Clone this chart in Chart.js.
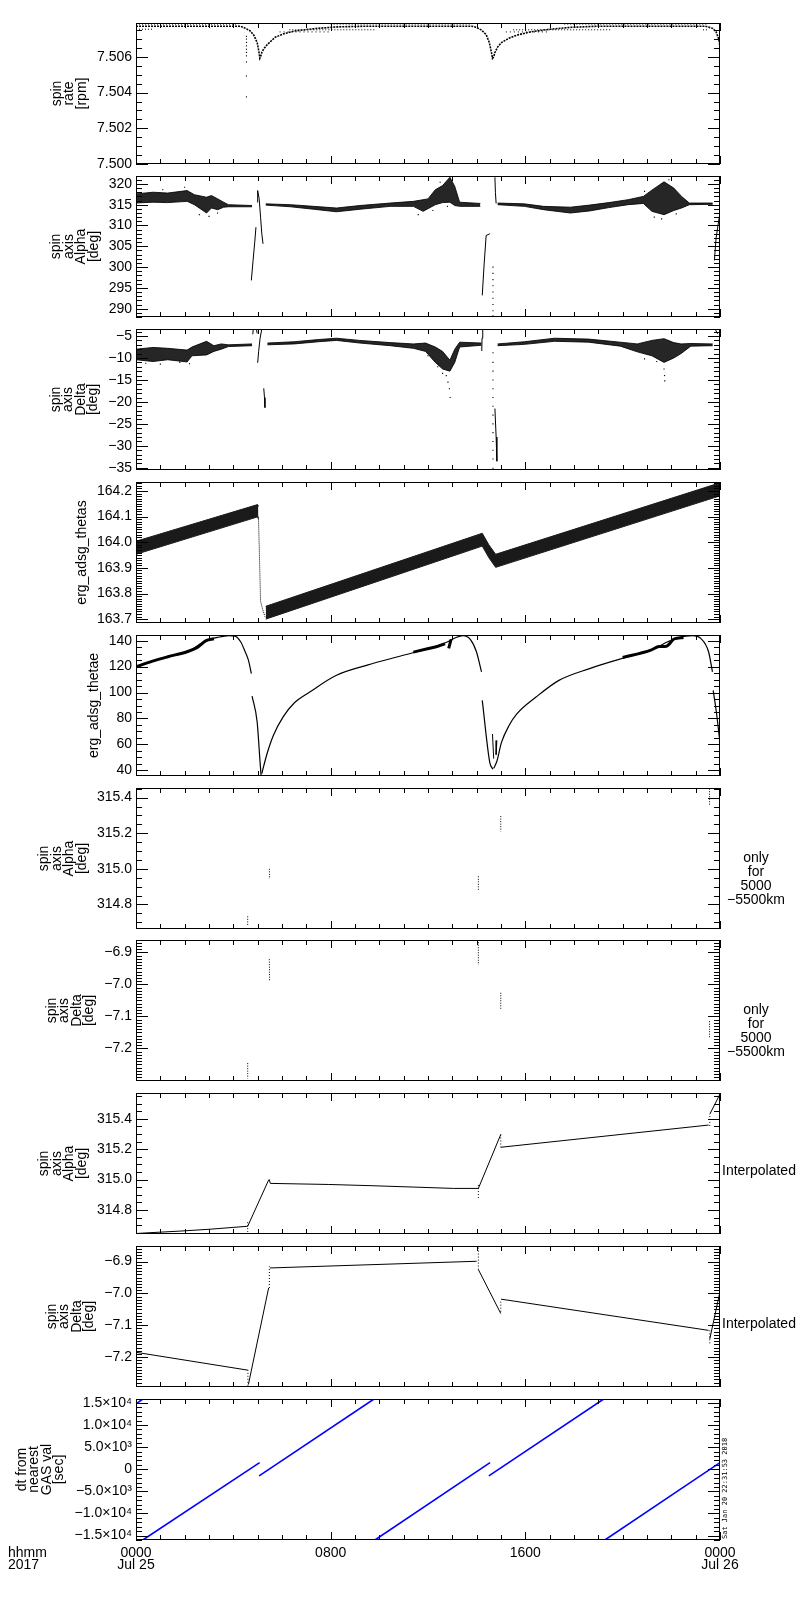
<!DOCTYPE html>
<html>
<head>
<meta charset="utf-8">
<script src="https://cdn.jsdelivr.net/npm/chart.js@4.4.1/dist/chart.umd.min.js"></script>
<style>
  html, body { margin: 0; padding: 0; background: #fff; }
  #page { position: relative; width: 800px; height: 1600px; overflow: hidden; }
  #page canvas { position: absolute; left: 0; }
</style>
</head>
<body>
<div id="page"></div>
<script>
const FONT = '"Liberation Sans", Arial, sans-serif';

// x axis: hours from 0000 Jul 25 2017
const hourTicks = [0, 8, 16, 24];
const hourLabels = [['0000', 'Jul 25'], '0800', '1600', ['0000', 'Jul 26']];

// ---- panel 1: spin rate [rpm] ----
const rateTicks = [7.500, 7.502, 7.504, 7.506];
const rateLabels = ['7.500', '7.502', '7.504', '7.506'];
const rateMain = [[0,7.50772],[4.3,7.50772],[4.5,7.5076],[4.7,7.50745],[4.85,7.5072],[4.98,7.5068],[5.05,7.5063],[5.09,7.50592],[5.12,7.506],[5.17,7.50625],[5.25,7.50645],[5.4,7.5067],[5.56,7.5069],[5.72,7.5071],[6.04,7.50728],[6.5,7.50745],[7.3,7.50758],[8.2,7.50768],[9.5,7.50772],[13.8,7.50772],[14.0,7.50765],[14.2,7.5075],[14.39,7.50725],[14.52,7.5068],[14.6,7.5063],[14.65,7.50592],[14.7,7.506],[14.75,7.50625],[14.86,7.50655],[15.02,7.5068],[15.33,7.50705],[15.65,7.50722],[16.2,7.5074],[17.0,7.50755],[17.9,7.50766],[19.0,7.50772],[23.4,7.50772],[23.7,7.5076],[23.84,7.5074],[23.95,7.507],[24,7.5066]];
const rateLevelHi = [[0,7.50784],[4.2,7.50784],null,[8.0,7.50784],[13.8,7.50784],null,[17.6,7.50784],[23.5,7.50784]];
const rateLevelLo = [[0,7.50755],[0.7,7.50755],null,[6.3,7.50752],[9.8,7.50752],null,[15.5,7.50752],[19.5,7.50752],null,[23.3,7.50752],[23.5,7.50752]];
const rateLevel3 = [[5.9,7.5074],[8.0,7.5074],null,[15.2,7.5074],[17.0,7.5074]];
const rateSpike = [[4.54,7.50715],[4.54,7.507],[4.54,7.50681],[4.54,7.50662],[4.54,7.50643],[4.54,7.50625],[4.54,7.50606],[4.54,7.50572],[4.54,7.50493],[4.54,7.50376]];

// ---- panel 2: spin axis Alpha [deg] ----
const alphaTicks = [290, 295, 300, 305, 310, 315, 320];
const alphaLabels = ['290', '295', '300', '305', '310', '315', '320'];
const alphaHi = [[0,317.6],[0.7,318.0],[1.3,317.8],[2.1,318.4],[2.4,317.4],[2.9,316.8],[3.1,317.2],[3.36,316.4],[3.6,315.6],[3.8,315.0],[4.77,314.8],null,[5.33,315.2],[6.35,315.0],[7.3,314.6],[8.24,314.2],[9.2,314.8],[10.45,315.4],[11.4,315.8],[12.0,316.4],[12.3,318.6],[12.6,319.6],[12.9,321.6],[13.1,319.4],[13.3,315.6],[14.15,315.3],null,[14.86,315.4],[15.96,315.2],[16.75,314.6],[17.85,314.4],[18.64,314.9],[19.43,315.5],[20.22,316.2],[20.85,317.0],[21.2,318.5],[21.7,320.5],[22.1,319.0],[22.42,317.0],[22.74,315.4],[23.7,315.4]];
const alphaLo = [[0,315.4],[0.7,315.6],[1.3,315.5],[2.1,315.8],[2.4,315.0],[2.9,313.0],[3.1,314.2],[3.36,313.8],[3.6,314.4],[3.8,314.5],[4.77,314.5],null,[5.33,314.9],[6.35,314.5],[7.3,313.9],[8.24,313.3],[9.2,313.9],[10.45,314.6],[11.4,314.6],[11.8,313.4],[12.3,315.0],[12.6,315.5],[12.9,315.6],[13.1,314.8],[13.3,314.6],[14.15,314.6],null,[14.86,315.0],[15.96,314.6],[16.75,313.8],[17.85,313.0],[18.64,313.5],[19.43,314.3],[20.22,315.0],[20.85,315.3],[21.2,313.4],[21.7,312.6],[22.1,313.6],[22.42,314.2],[22.74,315.0],[23.7,315.1]];
const alphaSteep = [[4.74,296.8],[4.81,301.5],[4.88,306],[4.93,309.6],null,[4.98,315.6],[5.0,318.4],[5.06,316.5],[5.12,312],[5.17,308],[5.22,305.6],null,[14.23,293.2],[14.31,301],[14.39,307.6],[14.54,308.0],null,[14.75,321.6],[14.77,318],[14.8,315.3],null,[23.77,301.6],[23.84,307],[23.97,312],[24,313]];
const alphaDots = [[14.67,300],[14.67,298.5],[14.67,297],[14.67,295.5],[14.67,294],[14.67,292.5],[14.67,291],[14.67,289.5],[14.67,288.3]];
const alphaSparse = [[2.0,319.2],[2.6,312.6],[3.0,312.2],[3.35,313.0],[11.6,312.6],[12.2,313.6],[12.5,320.4],[12.8,314.6],[20.9,318.2],[21.3,312.0],[21.6,311.6],[21.9,321.0],[22.2,312.8],[0.3,314.8],[1.1,318.6]];

// ---- panel 3: spin axis Delta [deg] ----
const deltaTicks = [-35, -30, -25, -20, -15, -10, -5];
const deltaLabels = ['\u221235', '\u221230', '\u221225', '\u221220', '\u221215', '\u221210', '\u22125'];
const deltaHi = [[0,-8.0],[0.7,-7.6],[1.3,-7.8],[2.1,-8.2],[2.3,-7.5],[2.9,-6.2],[3.2,-7.2],[3.5,-6.8],[3.8,-7.0],[4.77,-6.8],null,[5.4,-6.6],[6.5,-6.3],[7.5,-5.8],[8.24,-5.5],[9.2,-6.0],[10.45,-6.5],[11.4,-6.8],[11.9,-6.6],[12.3,-7.5],[12.6,-8.5],[12.9,-10.5],[13.1,-8.0],[13.3,-6.4],[14.2,-6.6],null,[14.86,-6.8],[15.96,-6.3],[17.2,-5.5],[18.6,-5.7],[19.9,-6.4],[20.6,-6.8],[21.2,-6.0],[21.7,-5.6],[22.1,-6.5],[22.4,-6.8],[22.8,-6.7],[23.7,-6.8]];
const deltaLo = [[0,-10.4],[0.7,-10.8],[1.3,-10.4],[2.1,-10.9],[2.3,-9.5],[2.9,-9.3],[3.2,-8.5],[3.5,-8.0],[3.8,-7.4],[4.77,-7.2],null,[5.4,-7.0],[6.5,-6.8],[7.5,-6.3],[8.24,-6.0],[9.2,-6.6],[10.45,-7.2],[11.4,-7.8],[11.9,-8.5],[12.3,-11.0],[12.6,-12.5],[12.9,-13.0],[13.1,-11.0],[13.3,-7.5],[14.2,-7.1],null,[14.86,-7.2],[15.96,-6.9],[17.2,-6.2],[18.6,-6.4],[19.9,-7.3],[20.6,-8.6],[21.2,-9.5],[21.7,-11.0],[22.1,-10.0],[22.4,-9.0],[22.8,-7.3],[23.7,-7.2]];
const deltaSparse = [[12.75,-14],[12.82,-15.5],[12.88,-17],[12.91,-19],[12.6,-13.5],[21.7,-12.5],[21.72,-14],[21.73,-15.2],[20.9,-10.2],[12.0,-9.5],[2.2,-11.3],[1.8,-11.0],[0.4,-11.2],[1.0,-11.4],[12.4,-12.0],[21.4,-10.8]];
const deltaSteep = [[4.8,-4.6],[4.82,-3.4],[4.95,-3.4],[4.98,-4.4],null,[5.17,-3.4],[5.1,-5.5],[5.04,-8.5],[5.0,-11.1],null,[5.25,-16.9],[5.28,-19.0],[5.3,-21.3],null,[14.21,-8.4],[14.22,-5.5],[14.25,-3.4],[14.36,-3.4],null,[14.75,-21.5],[14.8,-28],[14.83,-33.5],null,[23.77,-3.6],[23.8,-3.4],[23.9,-4.5],null,[23.98,-7.5],[24,-9.5]];
const deltaDots = [[14.67,-8.8],[14.67,-11],[14.67,-13],[14.67,-15],[14.67,-17],[14.67,-19],[14.67,-21],[14.67,-23],[14.67,-25],[14.67,-27],[14.67,-29],[14.67,-31],[14.67,-33],[14.67,-35.1]];

// ---- panel 4: erg_adsg_thetas ----
const thetasTicks = [163.7, 163.8, 163.9, 164.0, 164.1, 164.2];
const thetasLabels = ['163.7', '163.8', '163.9', '164.0', '164.1', '164.2'];
const thetasHi = [[0,164.004],[5.0,164.147],[5.03,164.14],null,[5.33,163.75],[14.23,164.035],[14.5,163.99],[14.78,163.953],[24,164.232]];
const thetasLo = [[0,163.953],[5.0,164.099],[5.03,164.09],null,[5.33,163.70],[14.23,163.985],[14.5,163.94],[14.78,163.902],[24,164.181]];
const thetasDrop = [[5.03,164.1],[5.06,164.0],[5.09,163.88],[5.12,163.77],[5.2,163.74],[5.3,163.71]];

// ---- panel 5: erg_adsg_thetae ----
const thetaeTicks = [40, 60, 80, 100, 120, 140];
const thetaeLabels = ['40', '60', '80', '100', '120', '140'];
const thetaeMain = [[0,119.8],[0.68,124.2],[1.31,127.6],[2.10,131.5],[2.88,140.0],[3.36,142.6],[3.83,143.9],[4.07,143.6],[4.30,139.2],[4.46,132.7],[4.62,125.0],[4.74,114.6],null,[4.77,97.3],[4.98,77.1],[5.09,48.6],[5.14,35.8],null,[5.17,37.5],[5.25,43.4],[5.40,53.7],[5.64,66.7],[6.04,81.0],[6.51,92.1],[7.14,100.4],[8.24,113.3],[9.50,121.1],[10.76,127.6],[12.02,134.0],[12.81,139.2],[13.13,142.3],[13.44,143.9],[13.76,140.5],[13.99,131.5],[14.20,115.9],null,[14.23,93.9],[14.54,46.0],[14.67,40.8],null,[14.7,41.5],[14.83,47.0],[15.02,61.5],[15.33,74.5],[15.65,83.5],[16.44,96.5],[17.38,109.4],[18.64,118.5],[20.22,127.6],[21.16,132.7],[22.11,141.3],[22.90,143.9],[23.21,141.8],[23.53,131.5],[23.69,115.9],null,[23.72,101.7],[23.85,85],[24,61.5]];
const thetaeNoise = [[0,119.8],[0.68,124.2],[1.31,127.6],[2.10,131.5],[2.5,134.5],[2.88,140.0],[3.2,141.5],null,[11.4,131.2],[12.02,134.0],[12.4,135.6],[12.7,137.6],null,[12.85,134],[12.95,141],null,[20.0,127],[21.16,132.7],[21.5,135.5],[21.8,135.8],[22.11,141.3],[22.5,142.5]];
const thetaeSpikes = [[14.65,68],[14.7,49],null,[14.83,63],[14.8,52]];

// ---- panel 6/7: spin axis only for 5000-5500km ----
const nearAlphaTicks = [314.8, 315.0, 315.2, 315.4];
const nearAlphaLabels = ['314.8', '315.0', '315.2', '315.4'];
const nearAlpha = [[4.59,314.733],[4.59,314.681],null,[5.48,315.0],[5.49,314.943],null,[14.07,314.958],[14.07,314.878],null,[14.99,315.296],[14.99,315.21],null,[23.57,315.45],[23.57,315.356]];
const nearDeltaTicks = [-7.2, -7.1, -7.0, -6.9];
const nearDeltaLabels = ['\u22127.2', '\u22127.1', '\u22127.0', '\u22126.9'];
const nearDelta = [[4.59,-7.246],[4.59,-7.294],null,[5.48,-6.921],[5.49,-6.991],null,[14.07,-6.868],[14.07,-6.939],null,[14.99,-7.026],[14.99,-7.076],null,[23.57,-7.115],[23.57,-7.168]];

// ---- panel 8/9: interpolated spin axis ----
const interpAlpha = [[0,314.645],[0.5,314.65],[1.8,314.661],[3.0,314.673],[4.59,314.693],[5.45,314.997],[5.48,315.0],[5.52,314.975],[7.9,314.968],[9.66,314.96],[11.39,314.951],[13.05,314.942],[14.07,314.942],[14.99,315.297],null,[15.0,315.213],[23.53,315.359],null,[23.58,315.43],[24,315.563]];
const interpAlphaDots = [[4.59,314.72],[4.59,314.655],null,[14.07,314.964],[14.07,314.875],null,[14.99,315.297],[14.99,315.208],null,[23.58,315.419],[23.58,315.352]];
const interpDelta = [[0,-7.185],[4.59,-7.241],null,[4.62,-7.286],[5.45,-6.983],null,[5.5,-6.92],[14.0,-6.899],null,[14.07,-6.925],[14.99,-7.063],null,[15.0,-7.018],[23.53,-7.116],null,[23.58,-7.143],[24,-6.994]];
const interpDeltaDots = [[4.6,-7.24],[4.6,-7.29],null,[5.48,-6.983],[5.48,-6.915],null,[14.07,-6.856],[14.07,-6.925],null,[14.99,-7.026],[14.99,-7.063],null,[23.58,-7.116],[23.58,-7.158]];

// ---- panel 10: dt from nearest GAS val [sec] ----
const dtTicks = [-15000, -10000, -5000, 0, 5000, 10000, 15000];
const dtLabels = ['\u22121.5\u00d710\u2074', '\u22121.0\u00d710\u2074', '\u22125.0\u00d710\u00b3', '0', '5.0\u00d710\u00b3', '1.0\u00d710\u2074', '1.5\u00d710\u2074'];
const dtLine = [[0,14800],[0.28,15900],null,[0.28,-16000],[5.08,1500],null,[5.06,-1500],[9.78,15900],null,[9.82,-16000],[14.55,1500],null,[14.5,-1500],[19.22,15900],null,[19.27,-16000],[24,1500]];

// ---------- helpers ----------
function split(arr) {
  const out = [[]];
  arr.forEach(p => p ? out[out.length - 1].push({ x: p[0], y: p[1] }) : out.push([]));
  return out.filter(s => s.length);
}
function lineSets(arr, style) {
  return split(arr).map(seg => Object.assign({
    data: seg, borderColor: '#000', borderWidth: 1, pointRadius: 0, fill: false, tension: 0
  }, style || {}));
}
function bandSets(hi, lo, color) {
  const H = split(hi), L = split(lo), out = [];
  H.forEach((seg, k) => {
    out.push({ data: seg, borderColor: color, borderWidth: 1, pointRadius: 0, fill: false });
    out.push({ data: L[k], borderColor: color, borderWidth: 1, pointRadius: 0, fill: '-1', backgroundColor: color });
  });
  return out;
}
function dotSets(arr) {
  return [{ data: split(arr).flat(), showLine: false, pointRadius: 0.8, pointStyle: 'rect',
            backgroundColor: '#000', borderWidth: 0 }];
}

const alphaTitle = ['spin', 'axis', 'Alpha', '[deg]'];
const deltaTitle = ['spin', 'axis', 'Delta', '[deg]'];
const onlyNote = ['only', 'for', '5000', '\u22125500km'];
const smooth = { cubicInterpolationMode: 'monotone' };

const panels = [
  { title: ['spin', 'rate', '[rpm]'], min: 7.500, max: 7.5079, ticks: rateTicks, labels: rateLabels, minor: 0.0005,
    sets: [...lineSets(rateLevelHi, { borderDash: [1, 2] }), ...lineSets(rateLevelLo, { borderDash: [1, 2] }),
           ...lineSets(rateLevel3, { borderDash: [1, 3] }), ...lineSets(rateMain, { borderWidth: 1.6, borderDash: [2, 1] }),
           ...dotSets(rateSpike)] },
  { title: alphaTitle, min: 288.0, max: 321.9, ticks: alphaTicks, labels: alphaLabels, minor: 1,
    sets: [...bandSets(alphaHi, alphaLo, 'rgba(0,0,0,0.85)'), ...lineSets(alphaSteep), ...dotSets(alphaDots), ...dotSets(alphaSparse)] },
  { title: deltaTitle, min: -35.5, max: -3.4, ticks: deltaTicks, labels: deltaLabels, minor: 1,
    sets: [...bandSets(deltaHi, deltaLo, 'rgba(0,0,0,0.85)'), ...lineSets(deltaSteep), ...dotSets(deltaDots), ...dotSets(deltaSparse)] },
  { title: ['erg_adsg_thetas'], min: 163.685, max: 164.235, ticks: thetasTicks, labels: thetasLabels, minor: 0.01,
    sets: [...bandSets(thetasHi, thetasLo, '#1a1a1a'), ...lineSets(thetasDrop, { borderDash: [1, 1] })] },
  { title: ['erg_adsg_thetae'], min: 35.6, max: 144.4, ticks: thetaeTicks, labels: thetaeLabels, minor: 5,
    sets: [...lineSets(thetaeNoise, Object.assign({ borderWidth: 3 }, smooth)),
           ...lineSets(thetaeMain, Object.assign({ borderWidth: 1.2 }, smooth)), ...lineSets(thetaeSpikes)] },
  { title: alphaTitle, note: onlyNote, min: 314.662, max: 315.454, ticks: nearAlphaTicks, labels: nearAlphaLabels, minor: 0.05,
    sets: lineSets(nearAlpha, { borderDash: [1, 1.5] }) },
  { title: deltaTitle, note: onlyNote, min: -7.302, max: -6.861, ticks: nearDeltaTicks, labels: nearDeltaLabels, minor: 0.01,
    sets: lineSets(nearDelta, { borderDash: [1, 1.5] }) },
  { title: alphaTitle, note: 'Interpolated', min: 314.642, max: 315.57, ticks: nearAlphaTicks, labels: nearAlphaLabels, minor: 0.05,
    sets: [...lineSets(interpAlpha), ...lineSets(interpAlphaDots, { borderDash: [1, 2] })] },
  { title: deltaTitle, note: 'Interpolated', min: -7.294, max: -6.851, ticks: nearDeltaTicks, labels: nearDeltaLabels, minor: 0.01,
    sets: [...lineSets(interpDelta), ...lineSets(interpDeltaDots, { borderDash: [1, 2] })] },
  { title: ['dt from', 'nearest', 'GAS val', '[sec]'], min: -16000, max: 15900, ticks: dtTicks, labels: dtLabels, minor: 1000,
    sets: lineSets(dtLine, { borderColor: '#0000ff', borderWidth: 1.6 }) }
];

// IDL-style frame: box, inward ticks on all sides, rotated titles, side notes
const idlFrame = {
  id: 'idlFrame',
  afterDraw(chart, args, opts) {
    const p = opts.panel;
    const { ctx, chartArea: a } = chart;
    const xs = chart.scales.x, ys = chart.scales.y;
    ctx.save();
    ctx.strokeStyle = '#000';
    ctx.lineWidth = 1;
    ctx.strokeRect(a.left + 0.5, a.top + 0.5, a.width - 1, a.height - 1);
    ctx.beginPath();
    for (let h = 0; h <= 24; h++) {
      const px = Math.round(xs.getPixelForValue(h)) + 0.5;
      const len = h % 8 === 0 ? 8 : 5;
      ctx.moveTo(px, a.bottom); ctx.lineTo(px, a.bottom - len);
      ctx.moveTo(px, a.top); ctx.lineTo(px, a.top + len);
    }
    const yTick = (v, len) => {
      const py = Math.round(ys.getPixelForValue(v)) + 0.5;
      ctx.moveTo(a.left, py); ctx.lineTo(a.left + len, py);
      ctx.moveTo(a.right, py); ctx.lineTo(a.right - len, py);
    };
    const k0 = Math.ceil(ys.min / p.minor - 1e-6), k1 = Math.floor(ys.max / p.minor + 1e-6);
    for (let k = k0; k <= k1; k++) yTick(k * p.minor, 6);
    p.ticks.forEach(v => yTick(v, 12));
    ctx.stroke();

    ctx.fillStyle = '#000';
    ctx.font = '14px ' + FONT;
    const maxW = Math.max(...p.labels.map(s => ctx.measureText(s).width));
    const lastX = a.left - 4 - maxW - 15;
    const midY = (a.top + a.bottom) / 2;
    p.title.forEach((line, i) => {
      const cx = lastX - (p.title.length - 1 - i) * 12.5;
      ctx.save();
      ctx.translate(cx, midY);
      ctx.rotate(-Math.PI / 2);
      ctx.textAlign = 'center';
      ctx.textBaseline = 'middle';
      ctx.fillText(line, 0, 0);
      ctx.restore();
    });

    if (Array.isArray(p.note)) {
      ctx.textAlign = 'center';
      ctx.textBaseline = 'middle';
      p.note.forEach((s, i) => ctx.fillText(s, 756, a.top + 70 + i * 14));
    } else if (p.note) {
      ctx.textAlign = 'left';
      ctx.textBaseline = 'middle';
      ctx.fillText(p.note, 722, a.top + 78);
    }

    if (opts.last) {
      ctx.textAlign = 'left';
      ctx.textBaseline = 'middle';
      ctx.fillText('hhmm', 8, a.bottom + 13);
      ctx.fillText('2017', 8, a.bottom + 25);
      ctx.save();
      ctx.font = '7px "DejaVu Sans Mono", monospace';
      ctx.translate(725, a.bottom - 1);
      ctx.rotate(-Math.PI / 2);
      ctx.fillText('Sat Jan 20 22:31:53 2018', 0, 0);
      ctx.restore();
    }
    ctx.restore();
  }
};

const page = document.getElementById('page');
const panelTop = 23, panelPitch = 152.9, panelHeight = 141, pad = 14;

panels.forEach((p, i) => {
  const last = i === panels.length - 1;
  const top = Math.round(panelTop + i * panelPitch);
  const h = last ? 1600 - (top - pad) : panelHeight + 2 * pad;
  const cv = document.createElement('canvas');
  cv.width = 800;
  cv.height = h;
  cv.style.top = (top - pad) + 'px';
  page.appendChild(cv);

  new Chart(cv, {
    type: 'line',
    data: { datasets: p.sets },
    options: {
      responsive: false,
      animation: false,
      events: [],
      layout: { padding: { left: 0, right: 80, top: pad, bottom: last ? h - pad - panelHeight - 40 : pad } },
      plugins: {
        legend: { display: false },
        tooltip: { enabled: false },
        idlFrame: { panel: p, last: last }
      },
      scales: {
        x: {
          type: 'linear', min: 0, max: 24,
          border: { display: false },
          grid: { display: false, drawTicks: false },
          afterBuildTicks: s => { s.ticks = hourTicks.map(v => ({ value: v })); },
          afterFit: s => { s.height = last ? 40 : 0; },
          ticks: {
            display: last, autoSkip: false, maxRotation: 0, minRotation: 0, padding: 7, color: '#000',
            font: { family: FONT, size: 14, lineHeight: '12px' },
            callback: (v, idx) => hourLabels[idx]
          }
        },
        y: {
          type: 'linear', min: p.min, max: p.max,
          border: { display: false },
          grid: { display: false, drawTicks: false },
          afterBuildTicks: s => { s.ticks = p.ticks.map(v => ({ value: v })); },
          afterFit: s => { s.width = 136; },
          ticks: {
            padding: 4, color: '#000',
            font: { family: FONT, size: 14 },
            callback: (v, idx) => p.labels[idx]
          }
        }
      }
    },
    plugins: [idlFrame]
  });
});
</script>
</body>
</html>
